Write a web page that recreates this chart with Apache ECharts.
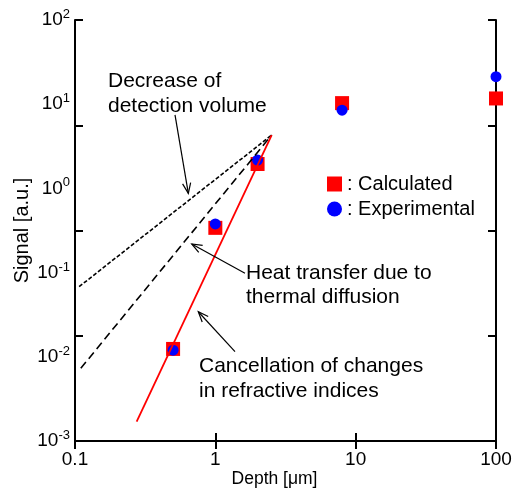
<!DOCTYPE html>
<html>
<head>
<meta charset="utf-8">
<script src="https://cdn.jsdelivr.net/npm/echarts@6/dist/echarts.min.js"></script>
<style>
  html, body { margin: 0; padding: 0; background: #fff; }
  #main { width: 513px; height: 491px; }
</style>
</head>
<body>
<div id="main"></div>
<script>
// data (depth in um, signal in a.u.)
var depthCalc = [0.5, 1, 2, 8, 100]
var signalCalc = [0.0124, 0.34, 1.95, 10.3, 11.7]
var depthExp = [0.5, 1, 2, 8, 100]
var signalExp = [0.012, 0.378, 2.17, 8.5, 21.2]

// model lines, endpoints in data coords
var cancelLine = [[0.275, 0.0017], [2.52, 4.3]]
var volumeLine = [[0.107, 0.068], [2.52, 4.3]]
var heatLine = [[0.110, 0.0073], [2.52, 4.3]]

// annotation arrows: [fromX, fromY, toX, toY]
var arrows = [
  [0.516, 7.45, 0.642, 0.875],
  [1.627, 0.0982, 0.679, 0.2187],
  [1.381, 0.0115, 0.756, 0.0343]
]

var xTickLabels = ['0.1', '1', '10', '100']
var yTickExps = ['-3', '-2', '-1', '0', '1', '2']

var font = 'Liberation Sans, Arial, sans-serif'

function zip(xs, ys) {
  var out = []
  for (var i = 0; i < xs.length; i++) out.push([xs[i], ys[i]])
  return out
}

var chart = echarts.init(document.getElementById('main'))

var frame = { show: true, lineStyle: { color: '#000', width: 2 } }
var tickIn = { show: true, inside: true, length: 8, lineStyle: { color: '#000', width: 2 } }

chart.setOption({
  animation: false,
  textStyle: { fontFamily: font, color: '#000' },
  grid: { left: 75, top: 20, right: 17, bottom: 50, outerBoundsMode: 'none', containLabel: false },
  legend: {
    orient: 'vertical',
    left: 322,
    top: 169,
    itemWidth: 15,
    itemHeight: 15,
    itemGap: 5,
    formatter: ': {name}',
    textStyle: { fontSize: 20, fontFamily: font, color: '#000' },
    data: [
      { name: 'Calculated', icon: 'rect' },
      { name: 'Experimental', icon: 'circle' }
    ]
  },
  xAxis: [
    {
      type: 'log', logBase: 10, min: 0.1, max: 100, position: 'bottom',
      name: 'Depth [μm]', nameLocation: 'middle', nameGap: 29, nameMoveOverlap: false,
      nameTextStyle: { fontSize: 17.5, fontFamily: font, color: '#000', padding: [0, 22, 0, 0] },
      axisLine: frame, axisTick: tickIn, splitLine: { show: false }, minorTick: { show: false },
      axisLabel: {
        margin: 9, fontSize: 19, fontFamily: font, color: '#000',
        formatter: function (v) { return xTickLabels[Math.round(Math.log10(v)) + 1] }
      }
    },
    {
      type: 'log', logBase: 10, min: 0.1, max: 100, position: 'top',
      axisLine: frame, axisTick: tickIn, splitLine: { show: false }, axisLabel: { show: false }
    }
  ],
  yAxis: [
    {
      type: 'log', logBase: 10, min: 0.001, max: 100, position: 'left',
      name: 'Signal [a.u.]', nameLocation: 'middle', nameGap: 43, nameMoveOverlap: false,
      nameTextStyle: { fontSize: 20, fontFamily: font, color: '#000' },
      axisLine: frame, axisTick: { show: false }, splitLine: { show: false },
      axisLabel: {
        margin: 5, color: '#000',
        formatter: function (v) {
          return '{b|10}{s|' + yTickExps[Math.round(Math.log10(v)) + 3] + '}'
        },
        rich: {
          b: { fontSize: 19, fontFamily: font, color: '#000', lineHeight: 24 },
          s: { fontSize: 13, fontFamily: font, color: '#000', verticalAlign: 'top', lineHeight: 24 }
        }
      }
    },
    {
      // the frame ticks sit at quarter steps, not at the decades
      type: 'value', min: 0, max: 4, interval: 1, position: 'left',
      axisLine: { show: false }, axisTick: tickIn, axisLabel: { show: false }, splitLine: { show: false }
    },
    {
      type: 'value', min: 0, max: 4, interval: 1, position: 'right',
      axisLine: frame, axisTick: tickIn, axisLabel: { show: false }, splitLine: { show: false }
    }
  ],
  series: [
    {
      name: 'Calculated', type: 'scatter', symbol: 'rect', symbolSize: 14, clip: false,
      itemStyle: { color: '#ff0000', opacity: 1 },
      data: zip(depthCalc, signalCalc), z: 3
    },
    {
      name: 'Experimental', type: 'scatter', symbol: 'circle', symbolSize: 11, clip: false,
      itemStyle: { color: '#0000ff', opacity: 1 },
      data: zip(depthExp, signalExp), z: 4
    },
    {
      name: 'volume', type: 'line', showSymbol: false, symbol: 'none', data: volumeLine, z: 5,
      lineStyle: { color: '#000', width: 1.6, type: [4, 2] }
    },
    {
      name: 'heat', type: 'line', showSymbol: false, symbol: 'none', data: heatLine, z: 5,
      lineStyle: { color: '#000', width: 1.6, type: [8, 4.5] }
    },
    {
      name: 'cancel', type: 'line', showSymbol: false, symbol: 'none', data: cancelLine, z: 6,
      lineStyle: { color: '#ff0000', width: 1.8, type: 'solid' }
    },
    {
      name: 'arrows', type: 'custom', z: 7, silent: true,
      encode: { x: [0, 2], y: [1, 3] },
      data: arrows,
      renderItem: function (params, api) {
        var p1 = api.coord([api.value(0), api.value(1)])
        var p2 = api.coord([api.value(2), api.value(3)])
        var ang = Math.atan2(p2[1] - p1[1], p2[0] - p1[0])
        var len = 11, spread = 0.38
        var h1 = [p2[0] - len * Math.cos(ang - spread), p2[1] - len * Math.sin(ang - spread)]
        var h2 = [p2[0] - len * Math.cos(ang + spread), p2[1] - len * Math.sin(ang + spread)]
        var st = { stroke: '#000', lineWidth: 1.2, fill: null }
        return {
          type: 'group',
          children: [
            { type: 'line', shape: { x1: p1[0], y1: p1[1], x2: p2[0], y2: p2[1] }, style: st },
            { type: 'polyline', shape: { points: [h1, p2, h2] }, style: st }
          ]
        }
      }
    }
  ],
  graphic: [
    {
      type: 'text', left: 108, top: 69,
      style: { text: 'Decrease of\ndetection volume', font: '21px ' + font, fill: '#000', lineHeight: 25 }
    },
    {
      type: 'text', left: 246, top: 261,
      style: { text: 'Heat transfer due to\nthermal diffusion', font: '21px ' + font, fill: '#000', lineHeight: 24 }
    },
    {
      type: 'text', left: 199, top: 354,
      style: { text: 'Cancellation of changes\nin refractive indices', font: '21px ' + font, fill: '#000', lineHeight: 25 }
    }
  ]
})
</script>
</body>
</html>
